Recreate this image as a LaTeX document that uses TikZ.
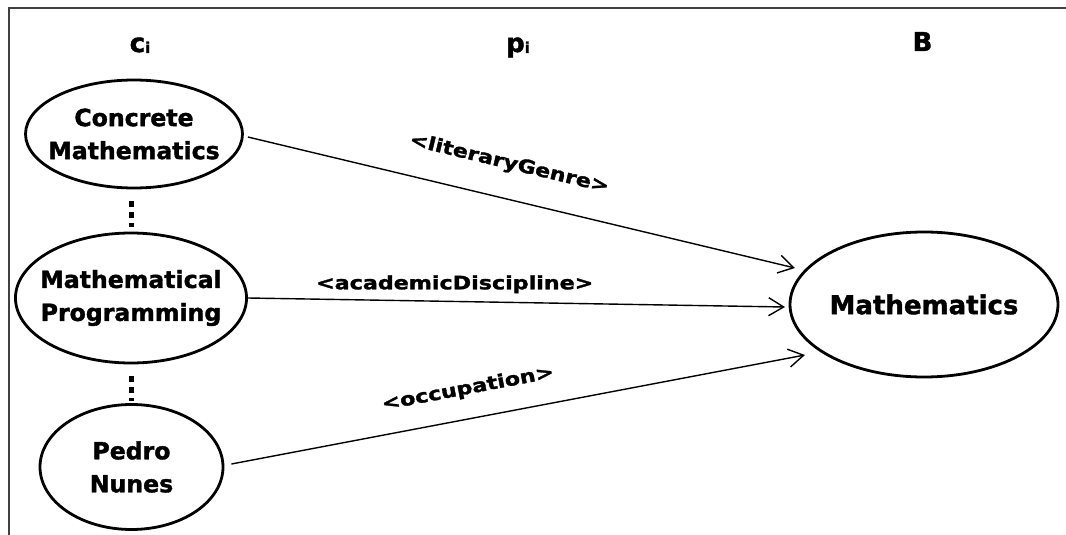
\documentclass[tikz,border=0pt]{standalone}
\usepackage{fontspec}
\setmainfont{DejaVu Sans}[BoldFeatures={FakeBold=1.5}]
\usetikzlibrary{shapes.geometric,arrows.meta,calc}
\newcommand{\wide}[1]{\scalebox{1.2}[1]{#1}}
\begin{document}
\begin{tikzpicture}[x=1pt,y=1pt,
  ell/.style={ellipse,draw,line width=2.8pt,inner ysep=0pt,inner xsep=-9pt,align=center,
    font=\fontsize{23.6}{33}\selectfont\bfseries},
  hdr/.style={font=\fontsize{26}{30}\selectfont\bfseries,inner sep=0pt,anchor=base},
  lab/.style={font=\fontsize{18.5}{22}\selectfont\bfseries,inner sep=0pt},
  conn/.style={line width=1.4pt,-{Straight Barb[length=15pt,width=18pt]}},
  dotline/.style={line width=5pt,dash pattern=on 6pt off 5pt},
  frameline/.style={line width=2pt,draw=black!75}]
\useasboundingbox (0,0) rectangle (1066,-535);
\draw[frameline] (1066,-8) -- (9,-8) -- (9,-535);
% headers
\node[hdr] (hc) at (140,-52) {c\raisebox{-1pt}{\fontsize{15}{15}\selectfont i}};
\node[hdr] (hp) at (518,-52) {p\raisebox{-1pt}{\fontsize{15}{15}\selectfont i}};
\node[hdr] (hb) at (922.5,-51) {B};
% ellipses
\node[ell,minimum width=214pt,minimum height=108pt] (e1) at (134,-134) {Concrete\\Mathematics};
\node[ell,minimum width=227pt,minimum height=130pt] (e2) at (131,-298) {Mathematical\\Programming};
\node[ell,inner xsep=0pt,minimum width=183pt,minimum height=125pt] (e3) at (131.5,-467) {Pedro\\Nunes};
\node[ell,inner xsep=0pt,minimum width=268pt,minimum height=145pt,font=\fontsize{26}{30}\selectfont\bfseries] (m) at (924,-304.5) {Mathematics};
% dotted links
\draw[dotline] ($(e1.south)+(-3,-12)$) -- ($(e2.north)+(0,5)$);
\draw[dotline] ($(e2.south)+(0,-12)$) -- ($(e3.north)+(-0.5,2)$);
% arrow tips
\coordinate (t1) at (795,-268);
\coordinate (t2) at (785,-307);
\coordinate (t3) at (805,-355);
\draw[conn] ($(e1.east)+(4,-3)$) -- (t1) node[lab,sloped,pos=.463,above=25pt] {\wide{<literaryGenre>}};
\draw[conn] (e2.east) -- (t2) node[lab,pos=.385,above=7.6pt] {\wide{<academicDiscipline>}};
\draw[conn] ($(e3.east)+(7,3)$) -- (t3) node[lab,sloped,pos=.422,above=20pt] {\wide{<occupation>}};
\end{tikzpicture}
\end{document}
